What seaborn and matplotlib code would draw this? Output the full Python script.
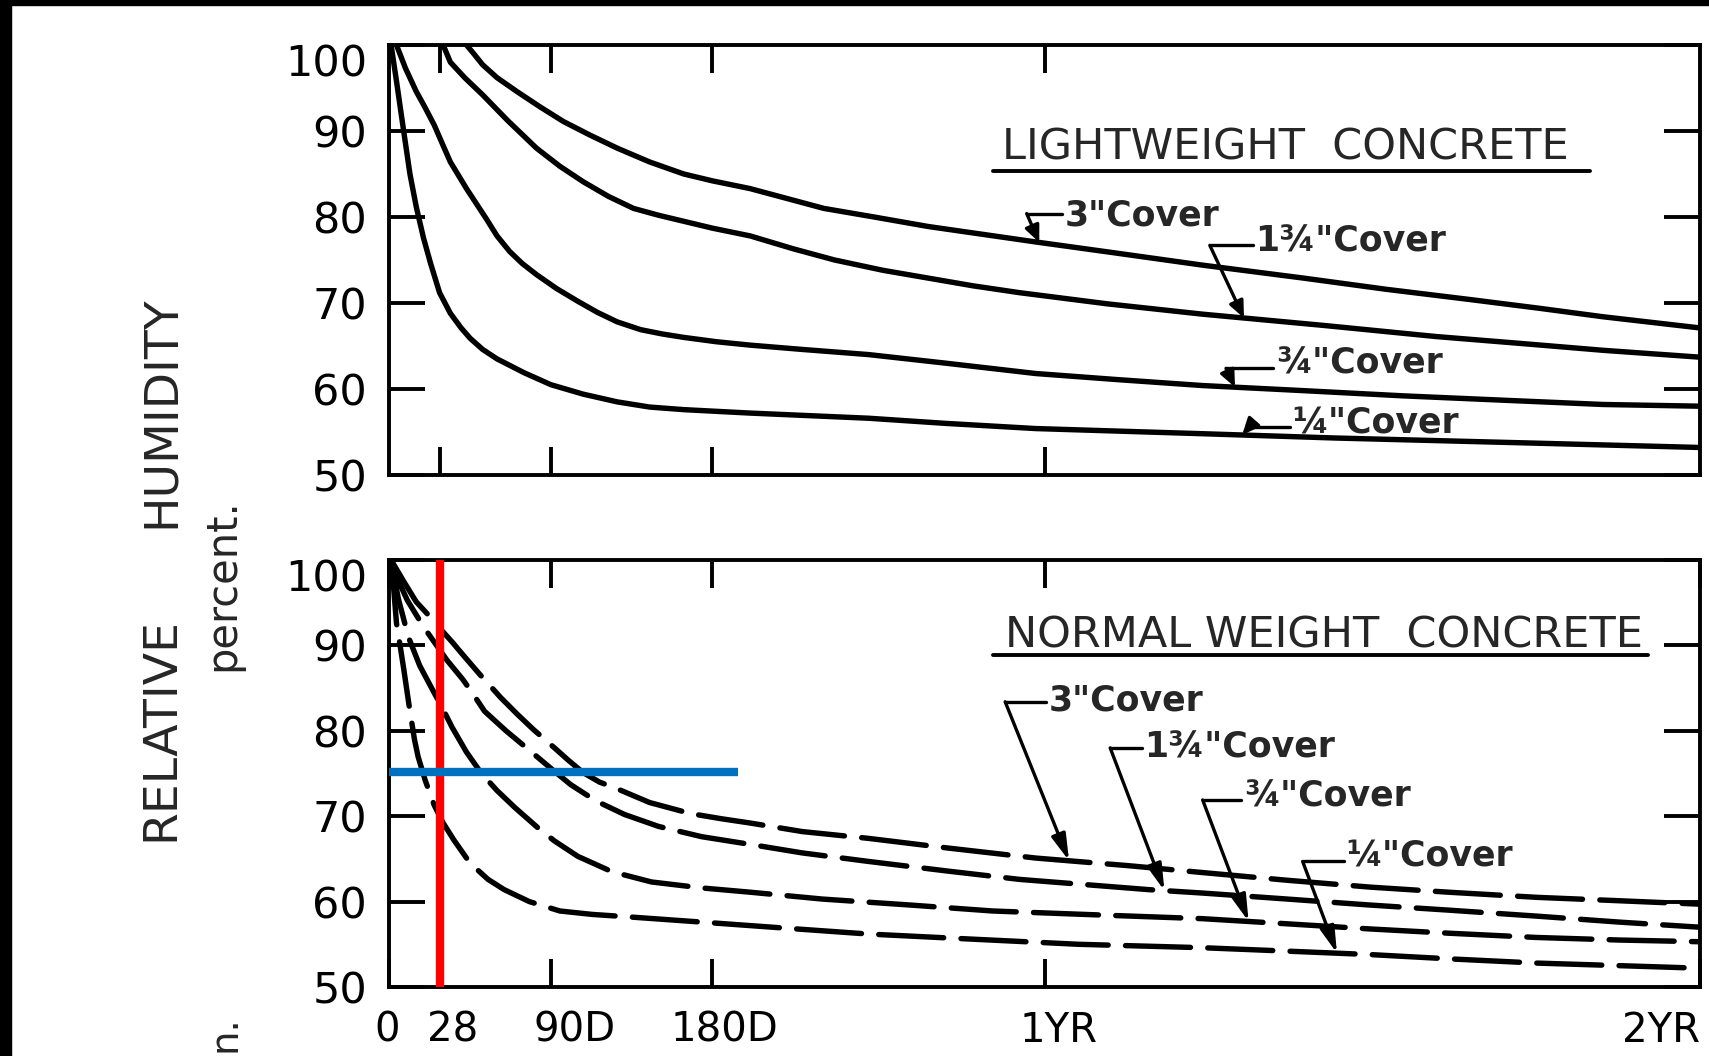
import numpy as np
import pandas as pd
import matplotlib
matplotlib.use("Agg")
import matplotlib.pyplot as plt
import matplotlib.transforms as mtrans
from matplotlib.patches import Rectangle
import seaborn as sns

# ---------------- data ----------------
covers = ['3"', '1¾"', '¾"', '¼"']

# Lightweight concrete (solid curves), days since casting -> RH %
lw_3_days = [43, 47, 52, 60, 71, 84, 97, 112, 127, 145, 164, 180, 201, 242, 270, 300, 330, 360,
             405, 453, 509, 555, 602, 640, 676, 730]
lw_3_rh = [100, 99.0, 97.7, 96.2, 94.6, 92.8, 91.1, 89.5, 88.0, 86.4, 85.0, 84.2, 83.3, 81.0, 80.0,
           78.9, 78.0, 77.1, 75.8, 74.4, 72.9, 71.6, 70.4, 69.4, 68.4, 67.1]
lw_134_days = [30, 34, 42, 52, 66, 82, 95, 108, 122, 136, 150, 164, 180, 201, 225, 248, 275, 300,
               325, 351, 400, 453, 520, 583, 630, 676, 730]
lw_134_rh = [100, 98.0, 96.2, 94.2, 91.2, 88.0, 85.9, 84.1, 82.4, 81.0, 80.2, 79.5, 78.7, 77.8, 76.3,
             75.0, 73.8, 72.9, 72.0, 71.2, 69.9, 68.7, 67.4, 66.1, 65.3, 64.5, 63.7]
lw_34_days = [4, 9, 15, 20, 25, 30, 34, 43, 54, 60, 67, 74, 82, 93, 105, 116, 127, 140, 152, 164,
              182, 201, 230, 267, 310, 360, 405, 453, 510, 565, 620, 676, 730]
lw_34_rh = [100, 97.3, 94.6, 92.7, 90.7, 88.3, 86.4, 83.3, 79.8, 77.8, 76.0, 74.6, 73.3, 71.7, 70.2,
            68.9, 67.8, 66.9, 66.4, 66.0, 65.5, 65.1, 64.6, 64.0, 63.0, 61.8, 61.1, 60.4, 59.8, 59.2,
            58.7, 58.2, 58.0]
lw_14_days = [1, 4, 8, 11.5, 15, 19, 23, 28, 34, 40, 45, 52, 60, 75, 90, 108, 127, 145, 164, 201,
              267, 310, 360, 453, 527, 639, 730]
lw_14_rh = [100, 95.8, 90.0, 85.0, 81.2, 77.6, 74.6, 71.2, 68.8, 67.1, 65.9, 64.6, 63.5, 61.9, 60.5,
            59.4, 58.5, 57.9, 57.6, 57.2, 56.6, 56.0, 55.4, 54.8, 54.3, 53.7, 53.2]

# Normal weight concrete (dashed curves)
nw_3_days = [1, 8, 15, 22, 29, 35, 41, 50, 62, 71, 80, 92, 100, 108, 117, 127, 145, 168, 185, 201,
             230, 267, 310, 360, 412, 453, 500, 546, 590, 639, 685, 730]
nw_3_rh = [100, 97.5, 95.1, 93.5, 91.8, 90.4, 88.9, 86.7, 83.9, 82.0, 80.2, 78.0, 76.5, 75.1, 74.0,
           73.2, 71.6, 70.3, 69.7, 69.2, 68.2, 67.4, 66.3, 65.1, 64.2, 63.4, 62.5, 61.7, 61.1, 60.5,
           60.1, 59.7]
nw_134_days = [1, 5, 10, 19, 25, 32, 41, 47, 53, 65, 77, 90, 101, 115, 131, 150, 174, 201, 230, 267,
               310, 351, 423, 453, 500, 546, 590, 639, 685, 730]
nw_134_rh = [100, 97.6, 95.3, 92.2, 90.4, 88.3, 86.0, 84.2, 82.3, 80.0, 77.9, 75.6, 73.7, 71.8, 70.2,
             68.8, 67.6, 66.7, 65.7, 64.7, 63.6, 62.6, 61.4, 61.0, 60.3, 59.6, 59.0, 58.3, 57.6, 57.0]
nw_34_days = [1, 5, 10.6, 17, 24.6, 29, 35, 43, 51, 60, 70, 83, 92, 105, 124, 146, 174, 201, 241,
              290, 336, 400, 453, 500, 546, 590, 639, 685, 730]
nw_34_rh = [100, 95.5, 91.0, 87.6, 84.6, 82.9, 80.4, 77.5, 75.1, 73.0, 71.0, 68.6, 67.1, 65.3, 63.5,
            62.3, 61.6, 61.1, 60.3, 59.6, 58.9, 58.4, 58.0, 57.4, 56.8, 56.3, 55.8, 55.5, 55.3]
nw_14_days = [1, 2.5, 4, 6, 8, 11, 14, 16, 20, 25, 30, 36, 45, 55, 64, 78, 95, 113, 134, 174, 220,
              267, 325, 384, 453, 500, 546, 590, 639, 685, 730]
nw_14_rh = [100, 96.5, 92.6, 90.0, 87.3, 83.0, 79.0, 77.0, 74.2, 71.3, 69.2, 67.2, 64.5, 62.6, 61.4,
            60.0, 58.9, 58.5, 58.2, 57.6, 56.9, 56.2, 55.6, 55.0, 54.6, 54.2, 53.8, 53.3, 52.8, 52.5,
            52.2]

x_ticks = [0, 28, 90, 180, 365, 730]
x_tick_labels = ["0", "28", "90D", "180D", "1YR", "2YR"]
y_ticks = [50, 60, 70, 80, 90, 100]
y_tick_labels = ["50", "60", "70", "80", "90", "100"]

red_day = 28          # vertical red marker (days)
blue_rh = 75.2        # horizontal blue marker (RH %)
blue_end_day = 194

top_title = "LIGHTWEIGHT  CONCRETE"
bottom_title = "NORMAL WEIGHT  CONCRETE"
label_text = ['3"Cover', '1¾"Cover', '¾"Cover', '¼"Cover']

# ---------------- figure ----------------
sns.set_style("white")
plt.rcParams["font.family"] = ["DejaVu Sans"]

W, H = 1709, 1056
fig = plt.figure(figsize=(W / 100, H / 100), dpi=100)
ax1 = fig.add_axes([389.3 / W, 1 - 475 / H, 1310.7 / W, 430 / H])
ax2 = fig.add_axes([389.3 / W, 1 - 987 / H, 1310.7 / W, 427 / H])

top_sets = [(lw_3_days, lw_3_rh), (lw_134_days, lw_134_rh), (lw_34_days, lw_34_rh), (lw_14_days, lw_14_rh)]
bot_sets = [(nw_3_days, nw_3_rh), (nw_134_days, nw_134_rh), (nw_34_days, nw_34_rh), (nw_14_days, nw_14_rh)]

top_df = pd.concat([pd.DataFrame({"cover": c, "day": d, "rh": r}) for c, (d, r) in zip(covers, top_sets)])
bot_df = pd.concat([pd.DataFrame({"cover": c, "day": d, "rh": r}) for c, (d, r) in zip(covers, bot_sets)])

sns.lineplot(data=top_df, x="day", y="rh", units="cover", estimator=None, color="black",
             linewidth=3.9, solid_capstyle="round", solid_joinstyle="round", ax=ax1, legend=False)
sns.lineplot(data=bot_df, x="day", y="rh", units="cover", estimator=None, color="black",
             linewidth=3.9, linestyle=(0, (12, 3.2)), dash_capstyle="round", dash_joinstyle="round",
             ax=ax2, legend=False)

for ax in (ax1, ax2):
    ax.set_xlim(0, 730)
    ax.set_ylim(50, 100)
    ax.set_xlabel("")
    ax.set_ylabel("")
    for sp in ax.spines.values():
        sp.set_visible(True)
        sp.set_linewidth(2.8)
        sp.set_color("black")
    ax.set_yticks(y_ticks, labels=y_tick_labels)
    ax.tick_params(axis="y", direction="in", length=26, width=2.8, left=True, right=True,
                   labelleft=True, labelright=False, labelsize=31, pad=16, colors="black")
    ax.tick_params(axis="x", direction="in", length=20, width=2.8, bottom=True, top=True,
                   labelsize=29, pad=17, colors="black")
    ax.grid(False)
    # shift the "100" label down off the top border
    lab100 = ax.get_yticklabels()[-1]
    lab100.set_transform(lab100.get_transform() + mtrans.ScaledTranslation(0, -0.15, fig.dpi_scale_trans))

ax1.set_xticks(x_ticks[1:5])
ax1.tick_params(axis="x", labelbottom=False)
ax2.set_xticks(x_ticks, labels=x_tick_labels)
offsets_px = [-2, 13, 24, 12, 14, 0]
for lab, dx in zip(ax2.get_xticklabels(), offsets_px):
    lab.set_transform(lab.get_transform() + mtrans.ScaledTranslation(dx / 100, 0, fig.dpi_scale_trans))
ax2.get_xticklabels()[-1].set_horizontalalignment("right")

# markers added on the scan
ax2.axvline(red_day, color="#FF0000", lw=6, zorder=6)
ax2.hlines(blue_rh, 0, blue_end_day, color="#0070C0", lw=6, zorder=6)

# titles with underline
ax1.text(341, 88.1, top_title, fontsize=31, ha="left", va="center")
ax1.plot([336, 669], [85.3, 85.3], color="black", lw=2.8, solid_capstyle="round")
ax2.text(343, 91.2, bottom_title, fontsize=31, ha="left", va="center")
ax2.plot([336, 701], [88.9, 88.9], color="black", lw=2.8, solid_capstyle="round")

# curve labels with leaders: (text day, text rh, corner day, corner rh, end day)
top_pos = [(376, 80.2, 355, 80.4, 362), (482.5, 77.1, 457, 76.7, 476),
           (493.7, 63.0, 466, 62.4, 471), (503, 56.0, 479, 55.6, 475)]
bot_pos = [(367.5, 83.6, 343, 83.4, 378.6), (420.5, 78.0, 401.5, 78.0, 431.7),
           (476, 72.3, 453, 71.9, 478.6), (533, 65.3, 508.7, 64.7, 527.8)]


def leader(ax, text, pos, days, vals, head):
    tx, ty, cx, cy, ex = pos
    ax.text(tx, ty, text, ha="left", va="center", fontsize=25, fontweight="bold", zorder=4)
    ax.plot([cx, tx - 1.5], [cy, cy], color="black", lw=2.4)
    ey = float(np.interp(ex, days, vals))
    ax.annotate("", xy=(ex, ey), xytext=(cx, cy),
                arrowprops=dict(arrowstyle=f"-|>,head_length={head},head_width=0.22",
                                color="black", lw=2.4, shrinkA=0, shrinkB=0, mutation_scale=20))


for t, p, (d, r) in zip(label_text, top_pos, top_sets):
    leader(ax1, t, p, d, r, 0.5)
for t, p, (d, r) in zip(label_text, bot_pos, bot_sets):
    leader(ax2, t, p, d, r, 0.8)

# axis title (shared, rotated)
fig.text(161 / W, 1 - 729 / H, "RELATIVE", rotation=90, fontsize=34, ha="center", va="center")
fig.text(161 / W, 1 - 412 / H, "HUMIDITY", rotation=90, fontsize=34, ha="center", va="center")
fig.text(222 / W, 1 - 585 / H, "percent.", rotation=90, fontsize=30, ha="center", va="center")
fig.text(225 / W, 1 - 1034 / H, "n.", rotation=90, fontsize=28, ha="center", va="center")

# scan borders
fig.add_artist(Rectangle((0, 0), 11 / W, 1, transform=fig.transFigure, color="black", zorder=10))
fig.add_artist(Rectangle((0, 1 - 5 / H), 1, 5 / H, transform=fig.transFigure, color="black", zorder=10))

fig.savefig("out.png", dpi=100, facecolor="white")
